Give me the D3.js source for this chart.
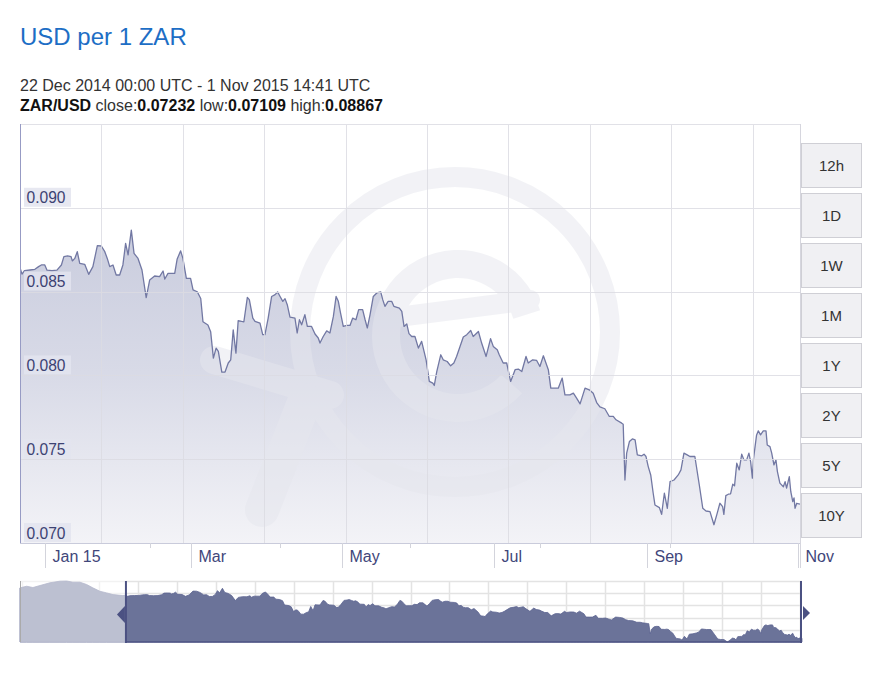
<!DOCTYPE html>
<html><head><meta charset="utf-8">
<script src="https://cdn.jsdelivr.net/npm/d3@7"></script>
<style>
body{margin:0;background:#fff;}
svg{font-family:"Liberation Sans",Arial,sans-serif;display:block;}
</style></head><body>
<svg id="c" width="883" height="699"></svg>
<script>
// ---------------- data ----------------
const titleText = "USD per 1 ZAR";
const periodText = "22 Dec 2014 00:00 UTC - 1 Nov 2015 14:41 UTC";
const pairName = "ZAR/USD";
const closeVal = "0.07232", lowVal = "0.07109", highVal = "0.08867";
const startDate = Date.UTC(2014, 11, 22, 0, 0);
const endDate = Date.UTC(2015, 10, 1, 14, 41);

// days since 22 Dec 2014 00:00 UTC
const days = [0,0.8,1.8,4.0,6.0,7.5,8.6,10.0,10.9,12.9,14.9,16.7,17.7,19.2,20.6,21.1,22.1,23.1,24.1,26.1,
27.7,29.4,31.2,32.8,34.2,35.2,36.2,37.5,38.8,40.2,41.5,42.6,43.6,44.9,46.0,47.6,49.2,50.9,52.3,54.3,
56.3,57.7,58.4,59.7,62.4,63.4,64.8,65.7,67.1,68.8,69.8,71.5,72.9,73.8,75.8,76.9,
78.0,79.1,80.0,81.4,82.7,84.0,85.0,86.0,87.1,88.0,89.4,90.3,91.7,92.5,93.9,94.8,96.8,97.9,98.8,100.1,
101.5,102.9,103.9,104.9,106.0,106.9,107.8,108.9,110.9,111.8,112.7,113.6,114.9,115.9,117.6,119.0,120.3,121.0,122.3,123.7,
125.0,126.4,127.5,128.4,129.3,130.4,131.8,133.1,134.2,135.5,136.6,138.2,139.2,140.1,141.2,142.5,143.9,145.5,146.3,147.2,
148.5,149.9,150.8,153.0,154.0,154.9,156.0,
156.9,158.0,159.3,160.7,162.0,163.8,165.1,166.5,167.1,168.1,169.7,170.7,172.3,173.7,175.0,176.1,178.8,180.2,181.8,182.8,
184.9,186.2,188.0,189.8,190.9,192.5,193.3,194.9,196.3,197.9,199.7,201.0,202.4,204.1,205.0,206.8,208.4,209.7,211.1,213.1,
214.1,215.8,217.1,218.7,219.8,221.8,223.2,224.5,225.9,227.9,229.6,231.2,232.6,233.9,
235.9,237.7,239.3,240.4,242.7,243.3,244.0,244.7,245.8,247.0,248.1,249.0,250.8,251.7,252.5,253.4,254.4,255.4,256.1,257.9,
258.8,259.9,261.1,262.2,263.8,265.5,266.6,267.8,269.1,270.2,272.2,274.0,275.4,276.7,278.3,279.9,281.2,282.3,283.4,283.9,
284.7,285.7,286.6,287.5,288.2,289.1,290.1,291.1,292.0,293.1,294.0,294.7,295.4,295.8,297.1,297.8,298.7,299.8,300.9,301.4,
302.5,303.2,304.1,304.9,305.5,306.5,307.9,308.6,309.2,310.3,310.9,311.7,312.2,312.6,313.3,314.6];

const values = [0.08643,0.08604,0.08625,0.08629,0.08633,0.08649,0.08659,0.08659,0.08628,0.08625,
0.08628,0.08659,0.08709,0.08713,0.08709,0.08683,0.08698,0.08738,0.08669,0.08663,
0.08603,0.08649,0.08774,0.08772,0.08738,0.08698,0.08649,0.08659,0.08599,0.08599,
0.08659,0.08788,0.08719,0.08867,0.08728,0.08698,0.08629,0.08464,0.08569,0.08593,
0.08589,0.08623,0.08575,0.08609,0.08609,0.08695,0.08743,0.08698,0.08579,0.08579,
0.08510,0.08499,0.08459,0.08320,0.08301,0.08261,
0.08103,0.08163,0.08143,0.08020,0.08020,0.08074,0.08093,0.08272,0.08133,0.08326,
0.08322,0.08320,0.08465,0.08452,0.08342,0.08322,0.08312,0.08243,0.08243,0.08342,
0.08471,0.08482,0.08498,0.08471,0.08442,0.08458,0.08422,0.08348,0.08342,0.08253,
0.08332,0.08302,0.08362,0.08292,0.08292,0.08247,0.08223,0.08193,0.08232,0.08266,
0.08253,0.08352,0.08471,0.08442,0.08372,0.08292,0.08298,0.08298,0.08342,0.08332,
0.08392,0.08392,0.08332,0.08283,0.08362,0.08471,0.08492,0.08498,0.08452,0.08412,
0.08442,0.08442,0.08412,0.08402,0.08382,0.08292,0.08307,
0.08249,0.08232,0.08232,0.08163,0.08203,0.08093,0.07964,0.07954,0.07940,0.08023,
0.08123,0.08093,0.08083,0.08057,0.08074,0.08113,0.08229,0.08243,0.08268,0.08232,
0.08262,0.08193,0.08113,0.08219,0.08173,0.08153,0.08123,0.08074,0.08074,0.07964,
0.08034,0.08038,0.08023,0.08113,0.08074,0.08093,0.08089,0.08053,0.08117,0.08034,
0.07924,0.07924,0.07924,0.07984,0.07884,0.07884,0.07894,0.07864,0.07830,0.07924,
0.07914,0.07894,0.07838,0.07812,
0.07801,0.07755,0.07755,0.07735,0.07715,0.07709,0.07376,0.07536,0.07605,0.07621,
0.07615,0.07526,0.07520,0.07530,0.07516,0.07456,0.07406,0.07297,0.07227,0.07211,
0.07171,0.07297,0.07207,0.07366,0.07376,0.07406,0.07436,0.07536,0.07526,0.07516,
0.07516,0.07346,0.07207,0.07191,0.07187,0.07109,0.07177,0.07237,0.07217,0.07171,
0.07283,0.07291,0.07293,0.07351,0.07341,0.07476,0.07436,0.07530,0.07496,0.07496,
0.07536,0.07486,0.07387,0.07496,0.07645,0.07669,0.07645,0.07669,0.07669,0.07585,
0.07575,0.07536,0.07466,0.07496,0.07426,0.07357,0.07336,0.07366,0.07327,0.07396,
0.07306,0.07247,0.07269,0.07207,0.07237,0.07232];

// earlier history shown only in the navigator
const preDays = [-49.3,-46.2,-43.3,-40.0,-35.4,-30.7,-27.6,-24.7,-21.4,-18.3,-15.4,-12.1,-9.0,-6.0,-1.4];
const preValues = [0.08881,0.08934,0.08891,0.08957,0.09046,0.09099,0.09105,0.09066,0.09066,0.08990,0.08881,0.08769,0.08716,0.08660,0.08627];

const yTicks = [0.070, 0.075, 0.080, 0.085, 0.090];
const yTop = 0.095;
const xTickDates = ["2015-01-01","2015-03-01","2015-05-01","2015-07-01","2015-09-01","2015-11-01"];
const xTickLabels = ["Jan 15","Mar","May","Jul","Sep","Nov"];
const gridStepDays = 32.83;
const minorStepDays = 52.45;
const rangeButtons = ["12h","1D","1W","1M","1Y","2Y","5Y","10Y"];

// ---------------- chart ----------------
const svg = d3.select("#c");
const DAY = 864e5;
const toDate = d => new Date(startDate + d * DAY);
const mainData = days.map((d, i) => ({date: toDate(d), value: values[i]}));
const navData = preDays.map((d, i) => ({date: toDate(d), value: preValues[i]})).concat(mainData);

const L = 20, R = 800, T = 124, B = 543;
const x = d3.scaleUtc().domain([new Date(startDate), new Date(endDate)]).range([L, R]);
const y = d3.scaleLinear().domain([yTicks[0], yTop]).range([B, T]);

// texts
svg.append("text").attr("x", 20).attr("y", 45).attr("font-size", 24).attr("fill", "#1d6ec5").text(titleText);
svg.append("text").attr("x", 20).attr("y", 91).attr("font-size", 16).attr("fill", "#333").text(periodText);
const info = svg.append("text").attr("x", 20).attr("y", 111).attr("font-size", 16).attr("fill", "#333");
info.append("tspan").attr("font-weight", "bold").attr("fill", "#111").text(pairName);
info.append("tspan").text(" close:");
info.append("tspan").attr("font-weight", "bold").attr("fill", "#111").text(closeVal);
info.append("tspan").text(" low:");
info.append("tspan").attr("font-weight", "bold").attr("fill", "#111").text(lowVal);
info.append("tspan").text(" high:");
info.append("tspan").attr("font-weight", "bold").attr("fill", "#111").text(highVal);

const defs = svg.append("defs");
const grad = defs.append("linearGradient").attr("id", "fillGrad")
  .attr("gradientUnits", "userSpaceOnUse").attr("x1", 0).attr("x2", 0).attr("y1", y(0.0885)).attr("y2", B);
grad.append("stop").attr("offset", 0).attr("stop-color", "#cacdde");
grad.append("stop").attr("offset", 0.45).attr("stop-color", "#d8dae7");
grad.append("stop").attr("offset", 1).attr("stop-color", "#f3f3f7");
defs.append("clipPath").attr("id", "plotClip").append("rect")
  .attr("x", L).attr("y", T).attr("width", R - L).attr("height", B - T);

const plot = svg.append("g").attr("clip-path", "url(#plotClip)");

// area
const area = d3.area().x(d => x(d.date)).y0(B).y1(d => y(d.value));
plot.append("path").datum(mainData).attr("d", area).attr("fill", "url(#fillGrad)");

// watermark (xe logo)
const wm = plot.append("g").attr("opacity", 0.5);
const wmColor = "#e6e7ee";
wm.append("circle").attr("cx", 455).attr("cy", 332).attr("r", 155)
  .attr("fill", "none").attr("stroke", wmColor).attr("stroke-width", 20);
wm.append("path").attr("transform", "translate(458,336)")
  .attr("d", d3.arc().innerRadius(58).outerRadius(86).startAngle(2.3).endAngle(7.55)())
  .attr("fill", wmColor);
wm.append("line").attr("x1", 390).attr("y1", 318).attr("x2", 530).attr("y2", 300)
  .attr("stroke", wmColor).attr("stroke-width", 20).attr("stroke-linecap", "round");
wm.append("line").attr("x1", 214).attr("y1", 360).attr("x2", 330).attr("y2", 395)
  .attr("stroke", wmColor).attr("stroke-width", 28).attr("stroke-linecap", "round");
wm.append("line").attr("x1", 305).attr("y1", 400).attr("x2", 262).attr("y2", 510)
  .attr("stroke", wmColor).attr("stroke-width", 34).attr("stroke-linecap", "round");

// grid
const grid = svg.append("g").attr("stroke", "#dcdce3").attr("stroke-width", 1).attr("opacity", 0.85);
d3.range(1, 10).forEach(k => {
  const gx = Math.round(x(toDate(k * gridStepDays))) + 0.5;
  grid.append("line").attr("x1", gx).attr("x2", gx).attr("y1", T).attr("y2", B);
});
yTicks.slice(1).concat([yTop]).forEach(v => {
  const gy = Math.round(y(v)) + 0.5;
  grid.append("line").attr("x1", L).attr("x2", R).attr("y1", gy).attr("y2", gy);
});
// right border
svg.append("line").attr("x1", R + 0.5).attr("x2", R + 0.5).attr("y1", T).attr("y2", 568).attr("stroke", "#d6d6de");

// line
const line = d3.line().x(d => x(d.date)).y(d => y(d.value));
plot.append("path").datum(mainData).attr("d", line).attr("fill", "none")
  .attr("stroke", "#7278a3").attr("stroke-width", 1.3).attr("stroke-linejoin", "round");

// axes lines
svg.append("line").attr("x1", L).attr("x2", R).attr("y1", B + 0.5).attr("y2", B + 0.5).attr("stroke", "#c9cbdb");
svg.append("line").attr("x1", L + 0.5).attr("x2", L + 0.5).attr("y1", T).attr("y2", B).attr("stroke", "#979bc4");

// y labels
const yl = svg.append("g");
yTicks.forEach(v => {
  const gy = y(v);
  yl.append("rect").attr("x", 24).attr("y", gy - 20).attr("width", 47).attr("height", 19)
    .attr("fill", "#e3e4ef").attr("opacity", 0.85);
  yl.append("text").attr("x", 26.5).attr("y", gy - 4.5).attr("font-size", 15.6)
    .attr("fill", "#3d4273").text(d3.format(".3f")(v));
});

// x ticks
const xa = svg.append("g");
xTickDates.forEach((s, i) => {
  const tx = Math.round(x(new Date(s + "T00:00:00Z"))) + 0.5;
  xa.append("line").attr("x1", tx).attr("x2", tx).attr("y1", B).attr("y2", 568).attr("stroke", "#d3d4dc");
  xa.append("text").attr("x", tx + 7).attr("y", 561.5).attr("font-size", 16).attr("fill", "#41467a").text(xTickLabels[i]);
});
d3.range(1, 6).forEach(k => {
  const tx = Math.round(x(toDate(k * minorStepDays))) + 0.5;
  xa.append("line").attr("x1", tx).attr("x2", tx).attr("y1", B).attr("y2", B + 5).attr("stroke", "#d3d4dc");
});

// range buttons
const btn = svg.append("g");
rangeButtons.forEach((b, i) => {
  const by = 143 + i * 50;
  btn.append("rect").attr("x", 801.5).attr("y", by + 0.5).attr("width", 60).attr("height", 44)
    .attr("fill", "#f0f0f3").attr("stroke", "#cfcfd5");
  btn.append("text").attr("x", 831.5).attr("y", by + 27.5).attr("text-anchor", "middle")
    .attr("font-size", 15).attr("fill", "#333").text(b);
});

// ---------------- navigator ----------------
const NL = 20, NR = 802, NT = 581, NB = 642;
const nx = d3.scaleUtc().domain([navData[0].date, new Date(endDate)]).range([NL, NR]);
const ny = d3.scaleLinear().domain(d3.extent(navData, d => d.value)).range([NB, NT]);
const nav = svg.append("g");
const gxs = d3.scaleLinear().domain([0, 20]).range([21.5, 799.5]);
const gys = d3.scaleLinear().domain([0, 5]).range([NT, NB]);
d3.range(0, 21).forEach(k => nav.append("line").attr("x1", Math.round(gxs(k)) + 0.5).attr("x2", Math.round(gxs(k)) + 0.5)
  .attr("y1", NT).attr("y2", NB).attr("stroke", "#e3e3e3").attr("stroke-width", 1.5));
d3.range(0, 5).forEach(k => nav.append("line").attr("x1", NL).attr("x2", NR)
  .attr("y1", Math.round(gys(k)) + 0.5).attr("y2", Math.round(gys(k)) + 0.5).attr("stroke", "#e3e3e3").attr("stroke-width", 1.5));
const narea = d3.area().x(d => nx(d.date)).y0(NB).y1(d => ny(d.value));
nav.append("path").datum(navData).attr("d", narea).attr("fill", "#6b7399")
  .attr("stroke", "#5c6390").attr("stroke-width", 0.8);
const selX = nx(new Date(startDate));
nav.append("rect").attr("x", NL).attr("y", NT - 1).attr("width", selX - NL).attr("height", NB - NT + 1)
  .attr("fill", "#fff").attr("opacity", 0.55);
nav.append("line").attr("x1", NL + 0.5).attr("x2", NL + 0.5).attr("y1", NT).attr("y2", NB).attr("stroke", "#aaa");
nav.append("line").attr("x1", selX).attr("x2", NR).attr("y1", NB).attr("y2", NB).attr("stroke", "#4f5584").attr("stroke-width", 1.5);
nav.append("line").attr("x1", selX).attr("x2", selX).attr("y1", NT).attr("y2", NB + 1).attr("stroke", "#4b5182").attr("stroke-width", 2);
nav.append("line").attr("x1", NR - 1).attr("x2", NR - 1).attr("y1", NT).attr("y2", NB + 1).attr("stroke", "#4b5182").attr("stroke-width", 2);
nav.append("path").attr("d", `M${selX - 1},606 L${selX - 9},614.5 L${selX - 1},623 Z`).attr("fill", "#4b5182");
nav.append("path").attr("d", `M${NR + 1},606 L${NR + 8},613 L${NR + 1},620 Z`).attr("fill", "#4b5182");
</script>
</body></html>
